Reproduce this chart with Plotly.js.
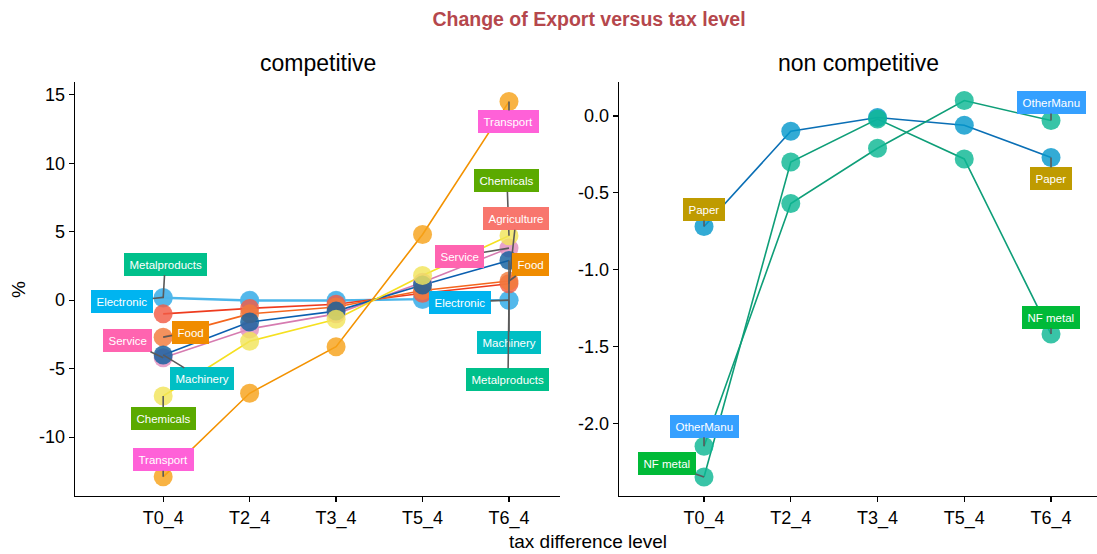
<!DOCTYPE html>
<html>
<head>
<meta charset="utf-8">
<script src="https://cdn.plot.ly/plotly-3.0.1.min.js"></script>
<style>html,body{margin:0;padding:0;background:#fff;}#chart{width:1097px;height:554px;}</style>
</head>
<body>
<div id="chart"></div>
<script>
// ---------- data ----------
const categories = ['T0_4', 'T2_4', 'T3_4', 'T5_4', 'T6_4'];

// competitive sectors (%)
const agriculture   = [-1.0, -0.6, -0.3, 0.5, 1.2];
const chemicals     = [-7.0, -3.0, -1.4, 1.8, 4.7];
const electronic    = [0.2, 0.0, 0.0, 0.1, 0.0];
const food          = [-2.7, -1.0, -0.5, 0.7, 1.4];
const machinery     = [-4.0, -1.6, -0.8, 1.1, 2.9];
const metalproducts = [0.15, -0.05, -0.05, 0.05, 0.0];
const service       = [-4.2, -2.1, -1.0, 1.3, 3.8];
const transport     = [-12.9, -6.8, -3.4, 4.8, 14.5];

// non competitive sectors (%)
const paper     = [-0.72, -0.10, -0.01, -0.06, -0.27];
const otherManu = [-2.15, -0.57, -0.21, 0.10, -0.03];
const nfMetal   = [-2.35, -0.30, -0.02, -0.28, -1.42];

// y tick labels
const compTicks = [-10, -5, 0, 5, 10, 15];
const compTickText = ['-10', '-5', '0', '5', '10', '15'];
const ncTicks = [-2, -1.5, -1, -0.5, 0];
const ncTickText = ['-2.0', '-1.5', '-1.0', '-0.5', '0.0'];

const compNames = ['Metalproducts', 'Electronic', 'Service', 'Agriculture', 'Food', 'Machinery', 'Chemicals', 'Transport'];
const compValues = [metalproducts, electronic, service, agriculture, food, machinery, chemicals, transport];
const ncNames = ['Paper', 'OtherManu', 'NF metal'];
const ncValues = [paper, otherManu, nfMetal];

// ---------- styles ----------
const FONT = 'Liberation Sans, Arial, sans-serif';
const lineColor = {
  Metalproducts: '#4DB6EA', Agriculture: '#EE3B1E', Electronic: '#4DB6EA', Food: '#F4661E',
  Machinery: '#0B5FB0', Service: '#D67BB0', Chemicals: '#F5E020', Transport: '#F39200',
  Paper: '#0A6FB5', OtherManu: '#0E9E78', 'NF metal': '#0E9E78'
};
const markerColor = {
  Metalproducts: '#4DB6EA', Agriculture: '#F25C45', Electronic: '#4DB6EA', Food: '#F27A3A',
  Machinery: '#125F9E', Service: '#E08DBE', Chemicals: '#F2E45A', Transport: '#F7A21B',
  Paper: '#0699CC', OtherManu: '#0DB794', 'NF metal': '#0DB794'
};
const labelFill = {
  Agriculture: '#F8766D', Chemicals: '#5BAA00', Electronic: '#00B4F0', Food: '#F08C00',
  Machinery: '#00BFC4', Metalproducts: '#00C08B', Service: '#FF64B0', Transport: '#FF61D8',
  Paper: '#BF9B00', OtherManu: '#35A0FF', 'NF metal': '#00BA38'
};

// label placement: [name, category index, offset x px, offset y px]
const compLabels = [
  ['Metalproducts', 0, 2, -34], ['Electronic', 0, -41, 4], ['Service', 0, -36, -17],
  ['Food', 0, 27, -5], ['Machinery', 0, 39, 24], ['Chemicals', 0, 0, 22], ['Transport', 0, 0, -17],
  ['Transport', 4, 0, 20], ['Chemicals', 4, -2, -55], ['Agriculture', 4, 7, -65],
  ['Service', 4, -49, 8], ['Food', 4, 22, -16], ['Electronic', 4, -49, 2],
  ['Machinery', 4, 0, 82], ['Metalproducts', 4, -1, 79]
];
const ncLabels = [
  ['Paper', 0, 0, -17], ['OtherManu', 0, 0, -20], ['NF metal', 0, -37, -13],
  ['OtherManu', 4, 0, -18], ['Paper', 4, 0, 21], ['NF metal', 4, 0, -17]
];

// ---------- traces ----------
const traces = [];
function addPanel(names, values, xa, ya) {
  names.forEach((n, i) => traces.push({
    type: 'scatter', mode: 'lines', x: categories, y: values[i], xaxis: xa, yaxis: ya,
    line: {color: lineColor[n], width: 1.6}, hoverinfo: 'skip', showlegend: false
  }));
  names.forEach((n, i) => traces.push({
    type: 'scatter', mode: 'markers', x: categories, y: values[i], xaxis: xa, yaxis: ya,
    marker: {color: markerColor[n], size: 19, opacity: 0.82, line: {width: 0}},
    name: n, showlegend: false
  }));
}
addPanel(compNames, compValues, 'x', 'y');
addPanel(ncNames, ncValues, 'x2', 'y2');

// ---------- annotations ----------
const annotations = [];
function addLabels(list, names, values, xr, yr) {
  list.forEach(([n, idx, ax, ay]) => {
    const v = values[names.indexOf(n)][idx];
    annotations.push({
      x: idx, y: v, xref: xr, yref: yr, text: n, showarrow: true,
      arrowhead: 0, arrowwidth: 1.6, arrowcolor: '#5a5a5a', standoff: 0,
      ax: ax, ay: ay, axref: 'pixel', ayref: 'pixel',
      bgcolor: labelFill[n], bordercolor: labelFill[n], borderwidth: 1, borderpad: 4.5,
      font: {family: FONT, size: 11.5, color: '#ffffff'}
    });
  });
}
addLabels(compLabels, compNames, compValues, 'x', 'y');
addLabels(ncLabels, ncNames, ncValues, 'x2', 'y2');

annotations.push(
  {text: 'competitive', xref: 'paper', yref: 'paper', x: (75 + 560) / 2 / 1097, y: (554 - 63) / 554,
   xanchor: 'center', yanchor: 'middle', showarrow: false, font: {family: FONT, size: 23, color: '#000'}},
  {text: 'non competitive', xref: 'paper', yref: 'paper', x: (619 + 1097) / 2 / 1097, y: (554 - 63) / 554,
   xanchor: 'center', yanchor: 'middle', showarrow: false, font: {family: FONT, size: 23, color: '#000'}},
  {text: 'tax difference level', xref: 'paper', yref: 'paper', x: 588 / 1097, y: (554 - 541) / 554,
   xanchor: 'center', yanchor: 'middle', showarrow: false, font: {family: FONT, size: 19, color: '#000'}},
  {text: '%', xref: 'paper', yref: 'paper', x: 18 / 1097, y: (554 - 290) / 554, textangle: -90,
   xanchor: 'center', yanchor: 'middle', showarrow: false, font: {family: FONT, size: 19, color: '#000'}}
);

// ---------- layout ----------
const axisCommon = {
  showline: true, linecolor: '#000', linewidth: 1.4, showgrid: false, zeroline: false,
  ticks: 'outside', ticklen: 5, tickwidth: 1.2, tickcolor: '#000',
  tickfont: {family: FONT, size: 18, color: '#000'}, fixedrange: true
};
const yBottom = (554 - 496) / 554, yTop = (554 - 82) / 554;
const layout = {
  width: 1097, height: 554, margin: {l: 0, r: 0, t: 0, b: 0},
  paper_bgcolor: '#fff', plot_bgcolor: '#fff', showlegend: false,
  title: {text: '<b>Change of Export versus tax level</b>', x: 589 / 1097, xanchor: 'center',
          y: (554 - 19) / 554, yanchor: 'middle', xref: 'paper', yref: 'paper',
          font: {family: FONT, size: 19.5, color: '#B5474C'}},
  xaxis: Object.assign({}, axisCommon, {domain: [75 / 1097, 560 / 1097], anchor: 'y', type: 'category',
          range: [-1.02, 4.59]}),
  yaxis: Object.assign({}, axisCommon, {domain: [yBottom, yTop], anchor: 'x', range: [-14.3, 15.93],
          tickvals: compTicks, ticktext: compTickText}),
  xaxis2: Object.assign({}, axisCommon, {domain: [619 / 1097, 1], anchor: 'y2', type: 'category',
          range: [-0.98, 4.53]}),
  yaxis2: Object.assign({}, axisCommon, {domain: [yBottom, yTop], anchor: 'x2', range: [-2.474, 0.221],
          tickvals: ncTicks, ticktext: ncTickText}),
  annotations: annotations
};

Plotly.newPlot('chart', traces, layout, {staticPlot: true, displayModeBar: false});
</script>
</body>
</html>
